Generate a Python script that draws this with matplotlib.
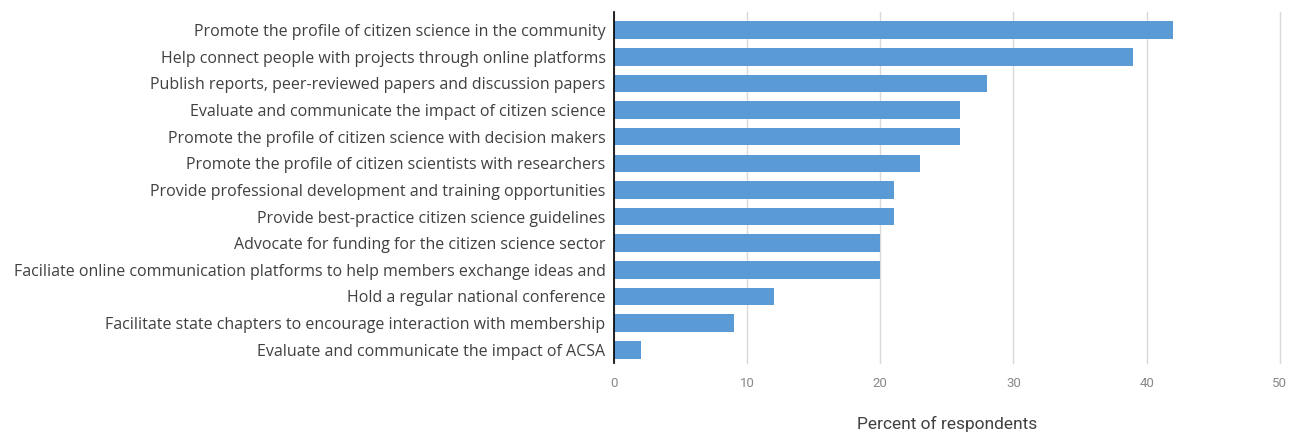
import matplotlib.pyplot as plt

labels = [
    'Promote the profile of citizen science in the community',
    'Help connect people with projects through online platforms',
    'Publish reports, peer-reviewed papers and discussion papers',
    'Evaluate and communicate the impact of citizen science',
    'Promote the profile of citizen science with decision makers',
    'Promote the profile of citizen scientists with researchers',
    'Provide professional development and training opportunities',
    'Provide best-practice citizen science guidelines',
    'Advocate for funding for the citizen science sector',
    'Faciliate online communication platforms to help members exchange ideas and',
    'Hold a regular national conference',
    'Facilitate state chapters to encourage interaction with membership',
    'Evaluate and communicate the impact of ACSA',
]
percent = [42, 39, 28, 26, 26, 23, 21, 21, 20, 20, 12, 9, 2]
xticks = [0, 10, 20, 30, 40, 50]

fig = plt.figure(figsize=(12.98, 4.34), dpi=100)
ax = fig.add_axes([0.473, 0.164, 0.513, 0.808])

y = list(range(len(labels)))
ax.barh(y, percent, height=0.66, color='#5B9BD5', zorder=3)

ax.set_xlim(0, 50)
ax.set_ylim(len(labels) - 1 + 0.49, -0.675)
ax.set_xticks(xticks)
ax.set_xticklabels([str(t) for t in xticks], family='Roboto', color='#888888', fontsize=9.5)
ax.set_yticks(y)
ax.set_yticklabels(labels, family='Open Sans', color='#404040', fontsize=11.5)
ax.tick_params(axis='both', length=0)
ax.tick_params(axis='x', pad=10)
ax.tick_params(axis='y', pad=6)

ax.grid(axis='x', color='#d9d9d9', linewidth=1, zorder=0)
for g in ax.get_xgridlines():
    g.set_clip_on(False)
for s in ['top', 'right', 'bottom']:
    ax.spines[s].set_visible(False)
ax.spines['left'].set_color('#000000')
ax.spines['left'].set_linewidth(1.2)
ax.spines['left'].set_zorder(4)

fig.text(0.7295, 0.005, 'Percent of respondents', family='Roboto', fontsize=12.5,
         color='#404040', ha='center', va='bottom')

plt.savefig('out.png', dpi=100)
